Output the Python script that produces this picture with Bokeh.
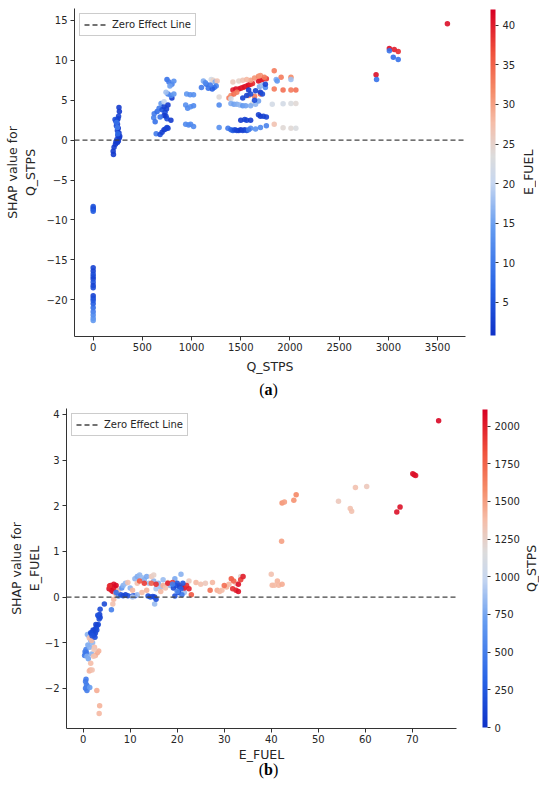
import numpy as np
from bokeh.plotting import figure
from bokeh.models import (LinearColorMapper, ColorBar, FixedTicker,
                          Legend, LegendItem, Div, ColumnDataSource)
from bokeh.layouts import column, row
from bokeh.embed import file_html
from bokeh.resources import INLINE

# ---------------- data: panel (a) ----------------
# x = Q_STPS, y = SHAP value for Q_STPS, colour = E_FUEL
q_stps_a = [
    0, 0, 0, 0, 0, 0, 0, 0, 0, 0, 0, 0, 0, 0, 0, 0, 0, 0, 0, 0, 0,
    262, 266, 258, 252, 242, 232, 247, 236, 255, 246, 262, 251, 266, 241, 231, 246, 226, 212, 203, 206, 270, 222, 256, 245, 238, 250,
    620, 615, 630, 650, 670, 690, 700, 720, 730, 740, 750, 720, 680, 640, 680, 700, 720, 735, 750, 760, 790, 800, 750, 770, 800, 820, 780, 760, 790, 740, 720, 820, 760, 745,
    950, 985, 1020, 940, 960, 990, 1020, 940, 970, 990, 1020,
    1100, 1120, 1150, 1170, 1200, 1220, 1240, 1260, 1250, 1230, 1210, 1280, 1280, 1280, 1140, 1190,
    1420, 1450, 1480, 1500, 1520, 1540, 1560, 1580, 1600, 1620, 1680, 1700, 1720, 1760,
    1380, 1400, 1430, 1460, 1600, 1640, 1680, 1700, 1740, 1640, 1580, 1700,
    1420, 1480, 1520, 1560, 1400, 1620,
    1400, 1430, 1460, 1490, 1520, 1550, 1600, 1650, 1680, 1690, 1720, 1750,
    1520, 1560, 1600, 1650, 1700, 1720, 1750, 1640, 1580,
    1500, 1540, 1560, 1600, 1680, 1700, 1730, 1760,
    1370, 1400, 1420, 1440, 1460, 1480, 1500, 1520, 1540, 1560, 1600, 1650, 1700, 1760, 1580,
    1840, 1910, 2010, 1860, 1870, 2010, 1840, 1930, 2010, 2060, 1820, 1930, 2010, 2060, 1840, 1930, 2010, 2060,
    2875, 2880, 3010, 3060, 3100, 3010, 3050, 3100, 3600,
]
shap_q = [
    -8.3, -8.5, -8.7, -8.9, -16.0, -16.4, -16.8, -17.1, -17.4, -17.8, -18.2, -18.5, -19.5, -19.8, -20.1, -20.5, -21.0, -21.5, -21.9, -22.3, -22.6,
    4.1, 3.6, 3.0, 2.7, 2.5, 2.3, 2.0, 1.8, 1.5, 1.2, 0.9, 0.6, 0.3, 0.1, -0.2, -0.3, -0.5, -0.9, -1.4, -1.8, 0.5, 2.6, -0.1, 1.6, 2.2, 0.8,
    3.3, 2.8, 2.3, 3.6, 4.0, 4.6, 3.8, 4.2, 3.5, 3.0, 2.7, 3.1, 2.9, 0.8, 0.7, 1.0, 1.3, 1.4, 1.6, 1.5, 2.5, 5.3, 7.6, 7.3, 7.0, 7.4, 6.8, 5.8, 5.6, 6.0, 4.8, 5.8, 4.4, 3.9,
    5.8, 5.7, 5.7, 4.4, 4.0, 4.2, 4.3, 2.0, 1.9, 2.0, 1.7,
    6.6, 7.4, 7.0, 6.5, 7.6, 7.5, 7.3, 7.4, 6.8, 6.6, 6.4, 5.4, 4.4, 1.6, 7.2, 6.9,
    6.3, 6.4, 6.4, 6.5, 6.6, 6.7, 6.8, 6.9, 7.0, 7.1, 7.4, 7.5, 7.6, 7.7,
    5.3, 5.6, 5.8, 6.0, 7.5, 7.8, 8.0, 8.1, 7.9, 5.5, 5.6, 5.8,
    7.3, 7.4, 7.5, 7.6, 5.2, 4.6,
    4.6, 4.5, 4.5, 4.4, 4.3, 4.3, 4.3, 4.5, 4.9, 6.7, 6.9, 6.6,
    5.3, 5.6, 5.8, 6.2, 6.0, 5.8, 7.0, 5.0, 6.3,
    2.5, 2.6, 2.5, 2.5, 3.2, 3.0, 3.0, 2.9,
    1.5, 1.3, 1.2, 1.3, 1.2, 1.2, 1.3, 1.2, 1.3, 1.2, 1.5, 1.4, 1.6, 1.8, 1.3,
    8.7, 7.9, 7.9, 7.6, 7.4, 7.6, 6.4, 6.3, 6.3, 6.3, 4.5, 4.55, 4.6, 4.6, 2.0, 1.55, 1.5, 1.5,
    8.2, 7.6, 11.5, 11.35, 11.1, 11.2, 10.4, 10.1, 14.6,
]
efuel_a = [
    5, 5, 4, 6, 3, 3, 4, 4, 3, 5, 3, 4, 3, 4, 5, 6, 8, 10, 12, 13, 14,
    2, 2, 3, 3, 3, 4, 3, 3, 2, 3, 2, 2, 2, 3, 2, 3, 2, 2, 2, 2, 2, 4, 2, 10, 9, 8,
    10, 11, 9, 8, 10, 14, 5, 3, 4, 3, 4, 2, 9, 10, 4, 3, 2, 3, 3, 3, 2, 2, 9, 10, 11, 13, 15, 11, 12, 18, 20, 14, 2, 3,
    14, 13, 13, 13, 12, 13, 12, 12, 12, 12, 12,
    10, 16, 8, 9, 22, 25, 16, 27, 11, 9, 6, 24, 12, 13, 12, 10,
    40, 41, 40, 41, 40, 41, 40, 41, 40, 39, 41, 40, 40, 38,
    33, 32, 34, 33, 30, 31, 32, 31, 33, 33, 32, 35,
    26, 25, 27, 28, 22, 23,
    16, 15, 16, 17, 14, 15, 16, 17, 15, 16, 18, 12,
    3, 3, 4, 3, 2, 4, 3, 4, 2,
    2, 3, 3, 2, 3, 2, 3, 3,
    10, 8, 6, 4, 3, 3, 2, 3, 3, 4, 12, 13, 12, 11, 10,
    33, 33, 32, 16, 14, 18, 33, 34, 33, 34, 22, 22, 23, 24, 27, 24, 24, 23,
    41, 9, 41, 40, 39, 9, 8, 9, 41,
]

# ---------------- data: panel (b) ----------------
# x = E_FUEL, y = SHAP value for E_FUEL, colour = Q_STPS
efuel_b = [
    0.4, 0.5, 0.6, 0.3, 0.7, 0.5, 0.6, 0.7, 0.5, 0.8, 0.9, 1.4,
    0.9, 1.2, 1.6, 1.0, 1.4, 1.8, 1.1, 2.0, 1.5, 0.8,
    1.3, 1.8, 2.4, 2.6, 3.0, 3.3, 2.2, 1.6, 1.3, 1.5, 2.9, 3.5, 3.4, 2.3, 1.9,
    4.5, 3.6, 3.5, 3.3, 3.6, 3.1, 3.4, 3.0, 2.8, 2.6, 2.4, 2.2, 2.0, 1.8, 2.3, 2.6, 2.9, 2.5, 2.1, 1.6, 3.2, 2.7, 1.9,
    5.5, 5.8, 6.0, 6.2, 6.5, 6.8, 7.0, 6.3, 5.6, 7.2,
    6.5, 6.3, 6.9, 7.5, 6.0, 7.5, 8.0, 8.5, 9.0, 9.5, 10.5, 11.0, 7.0, 8.2,
    8.5, 9.0, 10.0, 11.0, 11.5, 12.0, 12.5, 13.0, 13.5, 14.0, 15.0, 16.0, 17.0, 15.5, 16.5, 10.5, 11.5, 15.2, 20.8, 19.5, 18.5, 20.0, 21.5,
    9.5, 10.5, 12.5, 13.5, 14.5, 15.0, 16.5, 17.0, 17.5, 18.0, 11.5, 24.0, 25.0, 26.0, 27.5, 28.5, 29.0, 29.5, 30.5, 22.5, 21.5, 33.5, 34.0, 32.5, 31.0,
    12.0, 13.0, 14.5, 15.5, 18.0, 19.0, 20.5, 21.0, 21.5, 22.0, 22.5, 23.0, 30.0, 31.5, 32.0, 32.5, 33.0, 33.0, 33.5, 34.0, 27.0, 31.8,
    13.8, 14.3, 14.8, 15.2, 15.5, 19.2, 19.7, 20.0, 20.5, 20.3, 19.5, 21.2, 20.8,
    19.0, 20.0, 21.0,
    40.0, 40.2, 40.7, 41.3, 41.6, 42.3, 42.2, 42.3, 42.8, 44.8, 45.3, 54.3, 56.8, 57.1, 57.9, 60.3, 66.7, 67.4, 70.1, 70.4, 70.7, 75.6,
]
shap_e = [
    -1.20, -1.25, -1.15, -1.28, -1.22, -1.85, -1.80, -1.92, -2.00, -2.05, -1.96, -1.98,
    -0.82, -0.85, -0.95, -1.05, -1.10, -1.25, -1.35, -1.00, -0.90, -1.30,
    -0.90, -0.95, -1.10, -1.28, -1.22, -1.18, -1.30, -1.45, -1.62, -1.60, -2.05, -2.38, -2.55, -1.15, -1.60,
    -0.15, -0.27, -0.38, -0.42, -0.45, -0.40, -0.48, -0.62, -0.66, -0.70, -0.73, -0.75, -0.77, -0.80, -0.83, -0.79, -0.72, -0.88, -0.72, -0.78, -0.60, -0.60, -0.85,
    0.18, 0.25, 0.15, 0.22, 0.28, 0.20, 0.25, 0.12, 0.24, 0.15,
    -0.05, -0.15, 0.08, 0.15, -0.28, 0.02, 0.05, 0.03, 0.05, 0.03, 0.02, 0.03, 0.10, 0.20,
    0.25, 0.30, 0.20, 0.40, 0.45, 0.48, 0.42, 0.38, 0.45, 0.30, 0.35, 0.30, 0.38, 0.18, 0.22, 0.00, 0.05, -0.15, 0.50, 0.40, 0.25, 0.15, 0.10,
    0.32, 0.15, 0.10, 0.15, 0.45, 0.48, 0.12, 0.25, 0.20, 0.32, 0.30, 0.32, 0.28, 0.30, 0.32, 0.15, 0.12, 0.15, 0.22, 0.35, 0.28, 0.45, 0.44, 0.30, 0.28,
    0.35, 0.30, 0.30, 0.28, 0.30, 0.32, 0.25, 0.22, 0.20, 0.25, 0.18, 0.05, 0.25, 0.40, 0.35, 0.15, 0.12, 0.28, 0.38, 0.45, 0.15, 0.18,
    0.02, 0.00, 0.01, 0.00, -0.05, 0.20, 0.25, 0.30, 0.22, 0.10, 0.02, 0.30, 0.18,
    0.28, 0.12, 0.05,
    0.50, 0.26, 0.26, 0.35, 0.26, 0.28, 1.22, 2.06, 2.08, 2.12, 2.24, 2.10, 1.94, 1.88, 2.40, 2.42, 1.86, 1.97, 2.70, 2.68, 2.66, 3.86,
]
q_stps_b = [
    450, 500, 520, 480, 460, 480, 470, 500, 450, 480, 520, 700,
    800, 820, 780, 760, 800, 800, 750, 830, 850, 780,
    1350, 1400, 1380, 1400, 1450, 1420, 1350, 1380, 1400, 1420, 1450, 1420, 1400, 1300, 1350,
    150, 150, 100, 150, 120, 200, 180, 120, 200, 150, 180, 150, 120, 150, 200, 140, 160, 180, 130, 160, 150, 100, 200,
    2050, 2080, 2000, 2100, 2050, 2000, 2080, 2050, 1950, 2000,
    1400, 1350, 1450, 1300, 500, 600, 200, 150, 120, 150, 200, 150, 400, 650,
    800, 850, 800, 820, 780, 830, 850, 800, 760, 870, 820, 800, 850, 900, 880, 900, 870, 850, 800, 760, 820, 850, 880,
    1350, 1400, 1380, 1420, 1300, 1250, 1400, 1450, 1350, 1300, 1350, 1400, 1350, 1300, 1400, 1450, 1400, 1380, 1420, 1300, 1250, 1200, 1250, 1300, 1400,
    1800, 1900, 1750, 1950, 2000, 1900, 1850, 2000, 2050, 1950, 2000, 1800, 1700, 1800, 1750, 2000, 2050, 2050, 1900, 2000, 1700, 1950,
    200, 150, 180, 120, 200, 150, 180, 200, 150, 130, 200, 250, 300,
    500, 550, 450,
    1350, 1400, 1380, 1420, 1400, 1450, 1500, 1550, 1500, 1550, 1600, 1300, 1350, 1350, 1350, 1300, 2050, 2050, 2050, 2050, 2050, 2080,
]

# axis ticks / colour-bar ticks
x_ticks_a = [0, 500, 1000, 1500, 2000, 2500, 3000, 3500]
y_ticks_a = [-20, -15, -10, -5, 0, 5, 10, 15]
cb_ticks_a = [5, 10, 15, 20, 25, 30, 35, 40]
x_ticks_b = [0, 10, 20, 30, 40, 50, 60, 70]
y_ticks_b = [-2, -1, 0, 1, 2, 3, 4]
cb_ticks_b = [0, 250, 500, 750, 1000, 1250, 1500, 1750, 2000]

# ---------------- styling ----------------
ANCHORS = [
    (0.00, (15, 50, 200)), (0.15, (40, 100, 230)), (0.33, (100, 155, 240)),
    (0.47, (200, 215, 240)), (0.55, (220, 220, 220)), (0.65, (245, 190, 170)),
    (0.75, (245, 140, 105)), (0.87, (240, 80, 60)), (1.00, (215, 0, 35)),
]


def make_palette(n=256):
    pos = [a[0] for a in ANCHORS]
    cols = np.array([a[1] for a in ANCHORS], dtype=float)
    out = []
    for ti in np.linspace(0, 1, n):
        rgb = [np.interp(ti, pos, cols[:, k]) for k in range(3)]
        out.append("#%02x%02x%02x" % tuple(int(round(v)) for v in rgb))
    return out


PALETTE = make_palette()
FONT = "DejaVu Sans"
TXT = "#262626"


def minus(v):
    return str(v).replace("-", "\u2212")


def panel(x, y, c, xlab, ylab, xr, yr, xt, yt, cbt, cb_low, cb_high,
          frame_w, frame_h, left, right, top, bottom, ylab_standoff,
          xlab_standoff, cb_gap):
    p = figure(output_backend="svg", toolbar_location=None,
               frame_width=frame_w, frame_height=frame_h,
               x_range=xr, y_range=yr,
               min_border_left=left, min_border_right=right,
               min_border_top=top, min_border_bottom=bottom,
               background_fill_color="white", border_fill_color="white")
    p.outline_line_color = None
    p.grid.visible = False
    for ax, ticks, lab in ((p.xaxis[0], xt, xlab), (p.yaxis[0], yt, ylab)):
        ax.ticker = FixedTicker(ticks=ticks)
        ax.major_label_overrides = {t: minus(t) for t in ticks}
        ax.axis_label = lab
        ax.axis_label_text_font = FONT
        ax.axis_label_text_font_size = "12.5px"
        ax.axis_label_text_font_style = "normal"
        ax.axis_label_text_color = TXT
        ax.major_label_text_font = FONT
        ax.major_label_text_font_size = "10px"
        ax.major_label_text_color = TXT
        ax.axis_line_color = "#333333"
        ax.major_tick_line_color = "#333333"
        ax.major_tick_out = 4
        ax.major_tick_in = 0
        ax.minor_tick_line_color = None
    p.xaxis[0].major_label_standoff = 2
    p.xaxis[0].axis_label_standoff = xlab_standoff
    p.yaxis[0].major_label_standoff = 3
    p.yaxis[0].axis_label_standoff = ylab_standoff

    mapper = LinearColorMapper(palette=PALETTE, low=cb_low, high=cb_high)
    src = ColumnDataSource(dict(x=x, y=y, c=c))
    p.scatter("x", "y", source=src, size=5.5, line_color=None, alpha=0.9,
              fill_color={"field": "c", "transform": mapper})

    zero = p.line([xr[0], xr[1]], [0, 0], line_color="#444444",
                  line_dash="5 3", line_width=1.3)
    leg = Legend(items=[LegendItem(label="Zero Effect Line", renderers=[zero])],
                 location="top_left", margin=5, padding=4, spacing=0,
                 glyph_width=22, glyph_height=13, label_standoff=6,
                 label_text_font=FONT, label_text_font_size="10px",
                 label_text_color=TXT, border_line_color="#cccccc",
                 border_line_alpha=1, background_fill_alpha=0.9)
    p.add_layout(leg)

    cb = ColorBar(color_mapper=mapper, ticker=FixedTicker(ticks=cbt),
                  width=5, height=frame_h - 2, location=(frame_w + cb_gap, 1),
                  margin=0, padding=0, label_standoff=4,
                  major_tick_in=0, major_tick_out=3,
                  major_tick_line_color="#333333",
                  major_label_text_font=FONT, major_label_text_font_size="10px",
                  major_label_text_color=TXT, bar_line_color=None,
                  border_line_color=None, background_fill_color=None)
    p.add_layout(cb)
    return p


def side_label(text, top, frame_h):
    html = ('<div style="writing-mode:vertical-rl;transform:rotate(180deg);'
            'height:%dpx;width:22px;margin-top:%dpx;text-align:center;white-space:nowrap;'
            'font-family:\'DejaVu Sans\';font-size:12.5px;color:%s;line-height:22px;">'
            '%s</div>' % (frame_h, top, TXT, text))
    return Div(text=html, width=22, height=top + frame_h, margin=0)


def caption(letter, height, shift):
    html = ('<div style="position:relative;top:%dpx;width:537px;text-align:center;'
            'font-family:\'Liberation Serif\';font-size:16px;color:#000;'
            'line-height:%dpx;">(<b>%s</b>)</div>' % (shift, height, letter))
    return Div(text=html, width=537, height=height, margin=0)


pa = panel(q_stps_a, shap_q, efuel_a, "Q_STPS", "SHAP value for\nQ_STPS",
           (-190, 3784), (-24.6, 16.5), x_ticks_a, y_ticks_a, cb_ticks_a, 0.8, 42,
           391, 328, 74, 53, 8, 42, 5, 5, 25)
pb = panel(efuel_b, shap_e, q_stps_b, "E_FUEL", "SHAP value for\nE_FUEL",
           (-3.55, 79.4), (-2.88, 4.13), x_ticks_b, y_ticks_b, cb_ticks_b, 0, 2110,
           390, 320, 66, 65, 6, 36, 0, 1, 26)

row_a = row(pa, side_label("E_FUEL", 8, 328), spacing=0)
row_b = row(pb, side_label("Q_STPS", 6, 320), spacing=0)

layout = column(row_a, caption("a", 24, 0), row_b, caption("b", 20, -4), spacing=0)
open("out.html", "w").write(file_html(layout, INLINE))
